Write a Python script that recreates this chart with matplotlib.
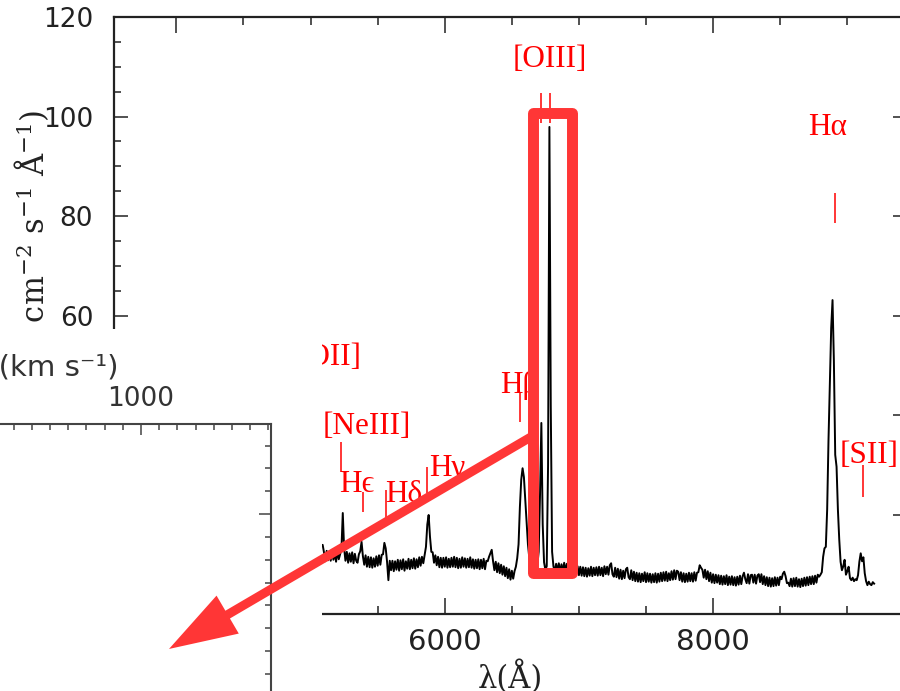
import numpy as np
import matplotlib
matplotlib.use("Agg")
import matplotlib.pyplot as plt
from matplotlib.patches import Rectangle, FancyArrow
from matplotlib.ticker import MultipleLocator
from matplotlib.transforms import IdentityTransform

# ---------------- data ----------------
wave_start = 5040          # Angstrom, first sample
wave_step = 10             # Angstrom between samples
flux = [
    16.0, 22.0, 20.0, 14.5, 13.8, 13.9, 12.4, 10.6, 12.7, 10.8,   # 5040
    12.6, 10.7, 12.9, 10.9, 12.3, 10.5, 12.8, 11.0, 12.0, 13.0,   # 5140
    20.3, 13.2, 10.7, 12.5, 10.3, 12.2, 10.5, 12.4, 10.2, 12.1,   # 5240
    10.7, 10.3, 12.0, 12.6, 14.5, 11.6, 9.9, 11.8, 9.5, 11.5,     # 5340
    9.4, 11.4, 9.3, 11.2, 9.5, 11.6, 9.7, 11.8, 9.9, 11.9,        # 5440
    12.0, 14.3, 13.2, 10.5, 6.8, 10.7, 8.8, 10.7, 8.6, 10.6,      # 5540
    8.9, 10.9, 8.7, 10.8, 9.0, 11.0, 8.7, 10.6, 9.1, 11.1,        # 5640
    9.0, 10.9, 9.2, 11.2, 9.1, 11.0, 9.4, 11.4, 9.7, 11.5,        # 5740
    10.2, 11.8, 13.5, 18.0, 19.9, 15.5, 12.5, 12.4, 10.3, 11.8,   # 5840
    9.8, 11.5, 9.4, 11.3, 9.3, 11.3, 9.5, 11.4, 9.3, 11.1,        # 5940
    9.4, 11.3, 9.5, 11.5, 9.4, 11.3, 9.2, 11.1, 9.3, 11.4,        # 6040
    9.5, 11.2, 9.3, 11.1, 9.4, 11.4, 9.3, 11.0, 9.1, 10.9,        # 6140
    9.2, 11.0, 9.0, 10.9, 9.2, 11.1, 9.0, 10.7, 10.6, 11.5,       # 6240
    12.2, 12.9, 10.6, 8.8, 10.5, 8.4, 10.2, 8.2, 9.9, 7.9,        # 6340
    9.6, 7.6, 9.3, 7.2, 9.0, 6.9, 8.7, 7.1, 8.6, 9.5,             # 6440
    11.2, 14.0, 21.5, 27.0, 29.3, 27.5, 23.0, 18.5, 14.0, 11.3,   # 6540
    10.0, 8.7, 9.9, 8.8, 9.9, 9.8, 12.5, 24.0, 38.4, 18.0,        # 6640
    10.4, 8.9, 9.6, 30.0, 97.9, 42.0, 12.5, 9.6, 8.5, 10.1,       # 6740
    8.5, 10.2, 8.3, 10.0, 8.4, 10.3, 8.5, 10.1, 8.2, 9.9,         # 6840
    8.3, 10.0, 8.1, 9.9, 8.2, 9.6, 7.8, 9.5, 7.7, 9.4,            # 6940
    7.6, 9.3, 7.5, 9.2, 7.7, 9.5, 7.6, 9.3, 7.8, 9.4,             # 7040
    7.7, 9.5, 7.8, 9.3, 7.6, 9.6, 8.0, 9.5, 7.9, 9.8,             # 7140
    10.2, 8.0, 7.5, 9.3, 7.4, 9.1, 7.1, 8.9, 7.0, 8.7,            # 7240
    7.2, 9.0, 9.3, 7.4, 7.0, 8.8, 6.8, 8.5, 6.6, 8.3,             # 7340
    6.5, 8.2, 6.4, 8.1, 6.6, 8.4, 6.4, 8.2, 6.5, 8.1,             # 7440
    6.3, 8.0, 6.4, 8.2, 6.3, 8.1, 6.5, 8.3, 6.6, 8.4,             # 7540
    6.7, 8.5, 6.6, 8.2, 6.8, 8.6, 6.9, 8.8, 7.0, 8.7,             # 7640
    8.5, 6.8, 8.4, 6.5, 8.2, 6.4, 8.1, 6.5, 8.3, 6.6,             # 7740
    8.2, 6.5, 8.4, 6.7, 8.3, 8.4, 9.8, 9.3, 8.9, 7.3,             # 7840
    8.9, 7.0, 8.6, 6.6, 8.3, 6.3, 8.0, 6.2, 7.9, 6.3,             # 7940
    7.8, 6.0, 7.7, 5.9, 7.6, 6.0, 7.8, 5.8, 7.5, 5.9,             # 8040
    7.6, 5.8, 7.4, 5.7, 7.5, 5.9, 7.7, 6.0, 7.6, 8.3,             # 8140
    7.0, 6.2, 8.0, 6.1, 7.8, 7.9, 6.3, 7.9, 6.1, 7.7,             # 8240
    8.0, 6.4, 8.0, 6.0, 7.6, 5.8, 7.4, 5.6, 7.3, 5.5,             # 8340
    7.2, 5.6, 7.4, 5.7, 7.3, 5.8, 7.5, 7.0, 8.1, 8.5,             # 8440
    7.6, 6.2, 6.3, 5.6, 7.1, 5.5, 7.2, 5.6, 7.3, 5.5,             # 8540
    7.0, 5.4, 7.1, 5.6, 7.3, 5.7, 7.4, 5.8, 7.5, 6.0,             # 8640
    7.6, 6.0, 7.7, 6.3, 7.9, 7.5, 7.9, 8.4, 11.5, 13.2,           # 8740
    13.5, 21.0, 35.0, 46.0, 57.5, 63.1, 51.0, 32.0, 29.6, 21.0,   # 8840
    15.0, 10.5, 8.8, 9.6, 10.9, 7.9, 8.6, 9.5, 7.2, 6.8,          # 8940
    7.3, 6.6, 7.0, 6.8, 7.8, 10.5, 12.2, 10.6, 11.4, 8.2,         # 9040
    6.6, 5.8, 6.5, 6.0, 5.8, 6.4, 6.1,                            # 9140
]
wave = wave_start + wave_step * np.arange(len(flux))

# emission-line labels (text, position in data units)
line_names = ["[OII]", "[NeIII]", "H\u03f5", "H\u03b4", "H\u03b3", "H\u03b2",
              "[OIII]", "H\u03b1", "[SII]"]
label_wave = [5140, 5420, 5346, 5696, 6017, 6553, 6780, 8856, 9162]
label_flux = [51.5, 37.6, 26.1, 24.1, 29.2, 46.0, 111.4, 97.7, 31.8]

# short vertical line markers
mark_wave = [5227, 5391, 5562, 5868, 6561, 6717, 6784, 8908, 9117]
mark_lo = [28.5, 20.5, 19.3, 24.3, 38.6, 98.7, 98.7, 78.6, 23.5]
mark_hi = [34.6, 24.5, 24.9, 29.5, 44.6, 104.7, 104.7, 84.6, 29.9]

# highlighted [OIII] region (data units of the spectrum)
box_wave = [6661, 6945]
box_flux = [8.3, 100.8]

# inset (velocity panel) limits
vel_lim = [-1260, 1715]
inset_ylim = [-0.7, 1.395]
# arrow end point inside the inset (velocity, normalised flux)
arrow_end = [1154, 0.409]
arrow_start_flux = 35.6

# ---------------- figure ----------------
W, H, DPI = 900, 691, 100
fig = plt.figure(figsize=(W / DPI, H / DPI), dpi=DPI)
fig.patch.set_facecolor("white")


def fx(px):
    return px / W


def fy(py):
    return 1 - py / H


RED = "#ff3636"
LRED = "#ff0000"
INK = "#222222"

ax = fig.add_axes([fx(114), fy(614), fx(907) - fx(114), fy(17) - fy(614)])
ax.plot(wave, flux, color="black", lw=1.4, zorder=3)
ax.set_xlim(3535, 9445)
ax.set_ylim(0, 120)
ax.xaxis.set_major_locator(MultipleLocator(2000))
ax.xaxis.set_minor_locator(MultipleLocator(500))
ax.yaxis.set_major_locator(MultipleLocator(20))
ax.yaxis.set_minor_locator(MultipleLocator(5))
ax.tick_params(which="both", direction="in", top=True, right=True,
               color=INK, width=1.1)
ax.tick_params(axis="x", which="major", length=11.5, pad=10, labelsize=21,
               labelcolor=INK)
ax.tick_params(axis="x", which="minor", length=5.8)
ax.tick_params(axis="y", which="major", length=10, pad=15, labelsize=19,
               labelcolor=INK)
ax.tick_params(axis="y", which="minor", length=5)
for s in ax.spines.values():
    s.set_linewidth(1.6)
    s.set_color(INK)
for t in ax.get_xticklabels() + ax.get_yticklabels():
    t.set_family("DejaVu Sans")
ax.set_xlabel("\u03bb(\u00c5)", family="DejaVu Serif", fontsize=22,
              color=INK, labelpad=3)

# line labels and markers
for name, lx, ly in zip(line_names, label_wave, label_flux):
    ax.text(lx, ly, name, color=LRED, fontsize=22.5,
            family=["Liberation Serif", "DejaVu Serif"],
            ha="center", va="center", clip_on=False, zorder=4)
ax.vlines(mark_wave, mark_lo, mark_hi, color=LRED, lw=1.1, zorder=4)

# highlight box
ax.add_patch(Rectangle((box_wave[0], box_flux[0]), box_wave[1] - box_wave[0],
                       box_flux[1] - box_flux[0], fill=False, ec=RED,
                       lw=7.9, joinstyle="round", zorder=6, clip_on=False))

# y label (lower part hidden behind the inset panel)
fig.text(fx(33), fy(110),
         r"F$_\lambda$ (10$^{-17}$ erg cm$^{-2}$ s$^{-1}$ " "\u00c5" r"$^{-1}$)",
         rotation=90, rotation_mode="anchor", ha="right", va="center",
         fontsize=22, family="DejaVu Serif", math_fontfamily="dejavuserif",
         color=INK, zorder=3)

# white panel holding the inset
fig.add_artist(Rectangle((0, 0), fx(322), fy(329), transform=fig.transFigure,
                         facecolor="white", edgecolor="none", zorder=5))

# inset axes (velocity space)
GREY = "#444444"
axi = fig.add_axes([fx(-270), fy(902), fx(271) - fx(-270), fy(424) - fy(902)])
axi.set_zorder(6)
axi.set_facecolor("white")
axi.set_xlim(*vel_lim)
axi.set_ylim(*inset_ylim)
axi.xaxis.set_major_locator(MultipleLocator(1000))
axi.xaxis.set_minor_locator(MultipleLocator(100))
axi.yaxis.set_major_locator(MultipleLocator(1.0))
axi.yaxis.set_minor_locator(MultipleLocator(0.1))
axi.tick_params(which="both", direction="in", top=True, right=True,
                bottom=True, left=True, color=GREY, width=1.1,
                labeltop=True, labelbottom=False)
axi.tick_params(axis="x", which="major", length=8, pad=8.6, labelsize=19,
                labelcolor="#333333")
axi.tick_params(axis="x", which="minor", length=4.3)
axi.tick_params(axis="y", which="major", length=8.6, labelsize=19,
                labelcolor="#333333")
axi.tick_params(axis="y", which="minor", length=4.3)
for s in axi.spines.values():
    s.set_linewidth(1.5)
    s.set_color(GREY)
fig.text(fx(118), fy(368), "Velocity (km s\u207b\u00b9)", ha="right",
         va="center", fontsize=21, family="DejaVu Sans", color="#333333",
         zorder=7)

# arrow from the highlighted region to the inset
p0 = ax.transData.transform((box_wave[0] - 18, arrow_start_flux))
p1 = axi.transData.transform(arrow_end)
fig.add_artist(FancyArrow(p0[0], p0[1], p1[0] - p0[0], p1[1] - p0[1],
                          width=9, head_width=44, head_length=68,
                          length_includes_head=True, color=RED, lw=0,
                          transform=IdentityTransform(), zorder=10))

fig.savefig("out.png", dpi=DPI)
